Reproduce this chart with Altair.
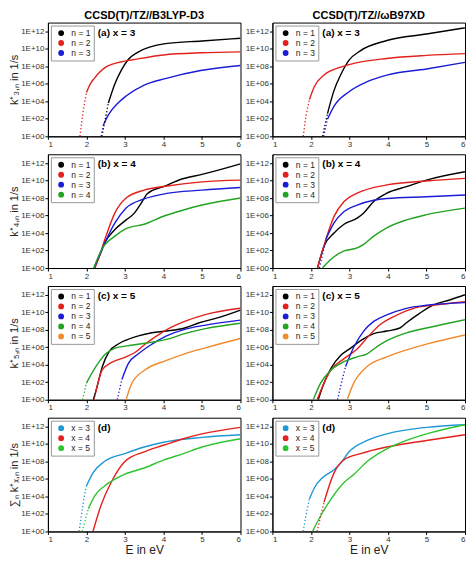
import altair as alt
import pandas as pd

# ---------------- data (E in eV, log10 of k in 1/s) ----------------
# Panel (a) x = 3, left column (B3LYP-D3)
A_L = {
    "n = 1": ([2.40, 2.50, 2.57, 2.74, 2.90, 3.08, 3.33, 4.05, 5.00, 6.00],
              [0.0, 2.2, 3.8, 6.0, 7.5, 8.75, 9.6, 10.6, 10.9, 11.2]),
    "n = 2": ([1.83, 1.92, 2.00, 2.10, 2.20, 2.50, 3.00, 3.20, 4.00, 5.00, 6.00],
              [0.0, 3.0, 5.0, 6.0, 6.6, 7.9, 8.6, 8.75, 9.3, 9.55, 9.65]),
    "n = 3": ([2.38, 2.44, 2.57, 2.82, 3.03, 3.50, 4.05, 5.00, 6.00],
              [0.0, 1.3, 2.45, 3.8, 4.6, 5.85, 6.6, 7.55, 8.1]),
}
# Panel (a) x = 3, right column (wB97XD)
A_R = {
    "n = 1": ([2.30, 2.43, 2.60, 2.77, 2.99, 3.29, 3.97, 5.00, 6.00],
              [0.0, 2.6, 5.25, 7.0, 8.7, 9.8, 10.95, 11.7, 12.4]),
    "n = 2": ([1.80, 1.87, 1.96, 2.09, 2.34, 2.77, 2.99, 3.97, 5.00, 6.00],
              [0.0, 2.3, 4.2, 5.7, 7.0, 7.9, 8.2, 8.9, 9.25, 9.45]),
    "n = 3": ([2.33, 2.43, 2.60, 2.99, 3.46, 3.97, 5.00, 6.00],
              [0.0, 1.95, 3.45, 5.1, 6.25, 7.0, 7.7, 8.45]),
}
# Panel (b) x = 4
B_L = {
    "n = 1": ([2.20, 2.36, 2.48, 2.74, 3.03, 3.25, 3.42, 3.58, 4.05, 4.50, 5.00, 6.00],
              [0.0, 1.6, 2.9, 4.4, 5.5, 6.3, 7.4, 8.5, 9.4, 10.2, 10.7, 11.9]),
    "n = 2": ([2.22, 2.31, 2.48, 2.74, 3.03, 3.50, 4.05, 5.00, 6.00],
              [0.0, 1.0, 3.3, 6.3, 8.0, 8.9, 9.35, 9.85, 10.05]),
    "n = 3": ([2.20, 2.31, 2.48, 2.74, 3.03, 3.50, 4.05, 5.00, 6.00],
              [0.0, 1.2, 2.9, 5.15, 6.85, 7.9, 8.5, 8.9, 9.2]),
    "n = 4": ([2.19, 2.40, 2.74, 3.03, 3.50, 4.05, 4.50, 5.00, 6.00],
              [0.0, 2.15, 3.65, 4.5, 5.0, 6.0, 6.6, 7.2, 8.0]),
}
B_R = {
    "n = 1": ([2.17, 2.34, 2.60, 2.86, 3.20, 3.37, 3.63, 3.97, 4.48, 5.00, 6.00],
              [0.0, 2.5, 4.0, 5.0, 5.7, 6.3, 7.6, 8.55, 9.3, 10.05, 11.0]),
    "n = 2": ([2.17, 2.39, 2.60, 2.86, 3.20, 3.97, 5.00, 6.00],
              [0.0, 3.3, 5.9, 7.6, 8.55, 9.5, 9.95, 10.25]),
    "n = 3": ([2.22, 2.39, 2.60, 2.86, 3.20, 3.63, 3.97, 5.00, 6.00],
              [0.0, 3.3, 5.15, 6.45, 7.2, 7.75, 7.95, 8.15, 8.35]),
    "n = 4": ([2.30, 2.52, 2.86, 3.20, 3.37, 3.63, 3.97, 4.48, 5.00, 6.00],
              [0.0, 1.0, 1.95, 2.3, 2.7, 3.65, 4.6, 5.5, 6.1, 6.85]),
}
# Panel (c) x = 5
C_L = {
    "n = 1": ([2.18, 2.28, 2.41, 2.58, 2.84, 3.05, 3.35, 3.70, 4.08, 4.55, 4.93, 5.40, 6.00],
              [0.0, 1.55, 3.75, 5.45, 6.4, 6.85, 7.3, 7.65, 7.85, 8.2, 8.8, 9.35, 10.25]),
    "n = 2": ([2.20, 2.24, 2.41, 2.67, 3.00, 3.26, 3.52, 3.95, 4.08, 4.55, 5.06, 6.00],
              [0.0, 0.8, 3.4, 4.3, 4.85, 5.4, 6.35, 7.65, 8.0, 8.95, 9.7, 10.45]),
    "n = 3": ([2.80, 2.92, 3.09, 3.35, 3.70, 4.08, 4.55, 5.06, 6.00],
              [0.0, 2.3, 4.15, 5.25, 6.35, 7.3, 8.05, 8.5, 9.1]),
    "n = 4": ([1.90, 2.00, 2.24, 2.50, 2.75, 3.05, 3.52, 4.08, 4.55, 5.06, 6.00],
              [0.0, 1.9, 3.75, 5.25, 5.9, 6.15, 6.45, 6.9, 7.55, 8.1, 8.75]),
    "n = 5": ([3.03, 3.18, 3.52, 4.08, 4.55, 5.06, 6.00],
              [0.0, 1.9, 3.4, 4.5, 5.25, 5.9, 7.0]),
}
C_R = {
    "n = 1": ([2.19, 2.34, 2.52, 2.77, 3.03, 3.29, 3.63, 3.97, 4.31, 4.48, 4.83, 5.17, 5.60, 6.00],
              [0.0, 1.9, 3.6, 5.05, 5.9, 6.75, 7.55, 7.85, 8.2, 8.8, 9.9, 10.8, 11.4, 12.0]),
    "n = 2": ([2.16, 2.34, 2.52, 2.86, 3.20, 3.46, 3.80, 4.15, 4.66, 5.17, 6.00],
              [0.0, 1.9, 3.4, 4.7, 5.8, 7.1, 8.6, 9.5, 10.45, 10.8, 11.2]),
    "n = 3": ([2.69, 2.77, 2.90, 3.11, 3.37, 3.63, 3.97, 4.48, 5.00, 6.00],
              [0.0, 1.55, 3.8, 6.0, 7.85, 8.95, 9.7, 10.45, 10.8, 11.1]),
    "n = 4": ([2.06, 2.25, 2.52, 2.86, 3.20, 3.46, 3.63, 3.97, 4.48, 5.00, 6.00],
              [0.0, 1.9, 3.4, 4.35, 4.9, 5.25, 5.8, 6.75, 7.65, 8.2, 9.15]),
    "n = 5": ([2.94, 3.11, 3.46, 3.97, 4.48, 5.00, 6.00],
              [0.0, 1.9, 3.8, 4.9, 5.7, 6.35, 7.4]),
}
# Panel (d): sum over n
D_L = {
    "x = 3": ([1.81, 1.87, 1.93, 2.00, 2.17, 2.47, 3.00, 3.50, 4.00, 5.00, 6.00],
              [0.0, 1.85, 3.7, 5.2, 6.7, 8.0, 8.9, 9.65, 10.2, 10.75, 11.05]),
    "x = 4": ([2.17, 2.38, 2.64, 3.00, 3.50, 4.00, 4.52, 5.00, 6.00],
              [0.0, 3.0, 5.6, 8.0, 9.1, 9.85, 10.6, 11.15, 11.9]),
    "x = 5": ([1.89, 2.05, 2.22, 2.47, 2.73, 3.00, 3.50, 4.00, 4.52, 5.00, 6.00],
              [0.0, 2.6, 4.1, 5.2, 5.95, 6.55, 7.25, 8.15, 8.9, 9.65, 10.6]),
}
D_R = {
    "x = 3": ([1.80, 1.87, 1.96, 2.09, 2.30, 2.60, 2.77, 2.99, 3.46, 3.97, 5.00, 6.00],
              [0.0, 1.85, 3.7, 5.0, 6.15, 7.05, 7.8, 9.1, 10.4, 11.15, 11.9, 12.2]),
    "x = 4": ([2.16, 2.34, 2.60, 2.86, 3.29, 3.97, 5.00, 6.00],
              [0.0, 3.35, 6.7, 8.2, 8.9, 9.65, 10.4, 11.05]),
    "x = 5": ([2.04, 2.26, 2.52, 2.86, 3.11, 3.46, 3.97, 4.48, 5.00, 6.00],
              [0.0, 1.85, 3.7, 5.6, 6.5, 8.0, 9.45, 10.4, 11.15, 12.2]),
}

N_COLORS = ["#000000", "#e3201c", "#1c1cd6", "#22a322", "#f28a2e"]
X_COLORS = ["#1e98d4", "#e3201c", "#2ec42e"]
Y_TICKS = [1, 1e2, 1e4, 1e6, 1e8, 1e10, 1e12]
X_TICKS = [1, 2, 3, 4, 5, 6]

W, H = 193, 114
FONT = "Liberation Sans"
STEEP = 16  # decades per eV above which the sparse (dotted) look of the original appears


def panel(key, series, colors, tag, ytitle=None, xtitle=None, title=None):
    rows = []
    for name, (es, ls) in series.items():
        # leading steep part drawn dotted, rest solid
        j = 0
        while j < len(es) - 1 and (ls[j + 1] - ls[j]) / (es[j + 1] - es[j]) > STEEP:
            j += 1
        for i, (e, l) in enumerate(zip(es, ls)):
            if i <= j and j > 0:
                rows.append({"E": e, "k": 10 ** l, key: name, "part": "dot"})
            if i >= j:
                rows.append({"E": e, "k": 10 ** l, key: name, "part": "solid"})
    df = pd.DataFrame(rows)
    names = list(series.keys())
    yaxis = alt.Axis(values=Y_TICKS, title=ytitle, titleFontSize=11,
                     titleFontWeight="normal", titlePadding=1,
                     labelExpr="'1E+' + (round(log(datum.value)/LN10) < 10 ? '0' : '') + round(log(datum.value)/LN10)")
    xaxis = alt.Axis(values=X_TICKS, title=xtitle, titleFontSize=12,
                     titleFontWeight="normal", titlePadding=1, format="d")
    enc = dict(
        x=alt.X("E:Q", scale=alt.Scale(domain=[1, 6], nice=False, zero=False), axis=xaxis),
        y=alt.Y("k:Q", scale=alt.Scale(type="log", domain=[1, 1e13], nice=False), axis=yaxis),
        color=alt.Color(f"{key}:N", scale=alt.Scale(domain=names, range=colors[:len(names)]),
                        legend=alt.Legend(orient="top-left", title=None, symbolType="circle",
                                          symbolSize=8, symbolStrokeWidth=3, labelFontSize=8.5,
                                          labelFont=FONT, labelColor="#222",
                                          fillColor="white", strokeColor="#999",
                                          padding=3, offset=3, rowPadding=1, clipHeight=9,
                                          labelOffset=6, symbolOffset=3)),
    )
    base = alt.Chart(df)
    solid = base.transform_filter(alt.datum.part == "solid").mark_line(
        strokeWidth=1.4, interpolate="monotone", clip=True).encode(**enc)
    dotted = base.transform_filter(alt.datum.part == "dot").mark_line(
        strokeWidth=1.3, strokeDash=[1.3, 2.2], clip=True).encode(**enc)
    label = alt.Chart(pd.DataFrame({"t": [tag]})).mark_text(
        align="left", baseline="middle", fontWeight="bold", fontSize=10, font=FONT
    ).encode(x=alt.value(50), y=alt.value(10), text="t:N")
    ch = alt.layer(solid, dotted, label).properties(width=W, height=H)
    if title:
        ch = ch.properties(title=alt.TitleParams(title, fontSize=11, fontWeight="bold",
                                                 font=FONT, offset=2))
    return ch


def row(a, b):
    return alt.hconcat(a, b, spacing=3).resolve_scale(color="independent")


row1 = row(panel("a1", A_L, N_COLORS, "(a) x = 3", ytitle="k⁺₃,ₙ in 1/s", title="CCSD(T)/TZ//B3LYP-D3"),
           panel("a2", A_R, N_COLORS, "(a) x = 3", title="CCSD(T)/TZ//ωB97XD"))
row2 = row(panel("b1", B_L, N_COLORS, "(b) x = 4", ytitle="k⁺₄,ₙ in 1/s"),
           panel("b2", B_R, N_COLORS, "(b) x = 4"))
row3 = row(panel("c1", C_L, N_COLORS, "(c) x = 5", ytitle="k⁺₅,ₙ in 1/s"),
           panel("c2", C_R, N_COLORS, "(c) x = 5"))
row4 = row(panel("d1", D_L, X_COLORS, "(d)", ytitle="∑ₙ k⁺ₓ,ₙ in 1/s", xtitle="E in eV"),
           panel("d2", D_R, X_COLORS, "(d)", xtitle="E in eV"))

chart = alt.vconcat(row1, row2, row3, row4, spacing=4).resolve_scale(
    color="independent"
).properties(padding=0).configure_view(
    stroke="black", strokeWidth=1
).configure_axis(
    grid=False, labelFontSize=8, labelFont=FONT, titleFont=FONT,
    labelColor="#333", titleColor="#222", domainColor="black", tickColor="black",
    tickSize=3, labelPadding=1, domain=True
).configure_legend(
    labelLimit=60
)

chart.save("out.html", embed_options={"renderer": "svg", "actions": False})
